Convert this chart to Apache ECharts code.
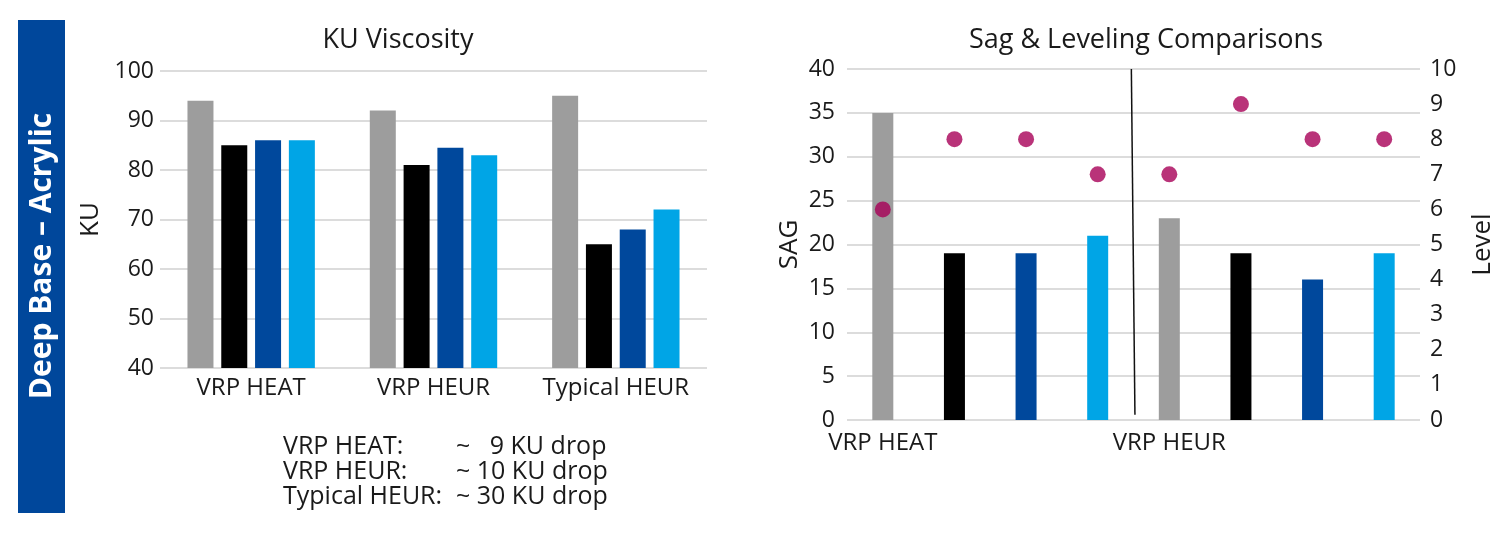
<!DOCTYPE html>
<html>
<head>
<meta charset="utf-8">
<script src="https://cdn.jsdelivr.net/npm/echarts@6/dist/echarts.min.js"></script>
<style>
html,body{margin:0;padding:0;background:#fff;}
#main{width:1500px;height:533px;}
</style>
</head>
<body>
<div id="main"></div>
<script>
// ---- Data ----
const kuCategories = ['VRP HEAT', 'VRP HEUR', 'Typical HEUR'];
const kuGray = [94, 92, 95];
const kuBlack = [85, 81, 65];
const kuDarkBlue = [86, 84.5, 68];
const kuLightBlue = [86, 83, 72];
const kuTicks = { min: 40, max: 100, interval: 10 };

const sagCategories = ['VRP HEAT', '', '', '', 'VRP HEUR', '', '', ''];
const sagValues = [35, 19, 19, 21, 23, 19, 16, 19];
const levelValues = [6, 8, 8, 7, 7, 9, 8, 8];
const sagTicks = { min: 0, max: 40, interval: 5 };
const levelTicks = { min: 0, max: 10, interval: 1 };
const dividerLine = [[3.47, 40], [3.52, 0.6]];

const dropLabels = ['VRP HEAT:', 'VRP HEUR:', 'Typical HEUR:'];
const dropValues = ['~   9 KU drop', '~ 10 KU drop', '~ 30 KU drop'];
const sideTitle = 'Deep Base \u2013 Acrylic';

// ---- Styles ----
const FONT = '"Open Sans", sans-serif';
const TXT = '#1a1a1a';
const GRAY = '#9d9d9d', BLACK = '#000000', DBLUE = '#00489c', LBLUE = '#00a5e6', DOT = '#a80058';
const barPalette = [GRAY, BLACK, DBLUE, LBLUE];
const gridLine = { lineStyle: { color: '#dcdcdc', width: 2 } };
const TICK_FS = 23, CAT_FS = 24, NAME_FS = 26, TITLE_FS = 27, NOTE_FS = 25;

const chart = echarts.init(document.getElementById('main'));

function kuBar(name, data, color) {
  return {
    type: 'bar', name, data, xAxisIndex: 0, yAxisIndex: 0,
    barWidth: 26, barGap: '30%',
    itemStyle: { color }
  };
}

const option = {
  animation: false,
  textStyle: { fontFamily: FONT },
  title: [
    { text: 'KU Viscosity', left: 393, textAlign: 'center', top: 22,
      textStyle: { fontFamily: FONT, fontSize: TITLE_FS, fontWeight: 'normal', color: TXT } },
    { text: 'Sag & Leveling Comparisons', left: 1141, textAlign: 'center', top: 22,
      textStyle: { fontFamily: FONT, fontSize: TITLE_FS, fontWeight: 'normal', color: TXT } }
  ],
  grid: [
    { left: 160, top: 71, width: 547, height: 297 },
    { left: 847, top: 69, width: 573, height: 351 }
  ],
  xAxis: [
    { type: 'category', gridIndex: 0, data: kuCategories,
      axisLine: { show: false }, axisTick: { show: false },
      axisLabel: { color: TXT, fontSize: CAT_FS, margin: 8, fontFamily: FONT, interval: 0, hideOverlap: false } },
    { type: 'category', gridIndex: 1, data: sagCategories,
      axisLine: { show: false }, axisTick: { show: false },
      axisLabel: { color: TXT, fontSize: CAT_FS, margin: 11, fontFamily: FONT, interval: 0, hideOverlap: false } },
    { type: 'value', gridIndex: 1, min: -0.5, max: 7.5, show: false }
  ],
  yAxis: [
    { type: 'value', gridIndex: 0, min: kuTicks.min, max: kuTicks.max, interval: kuTicks.interval,
      name: 'KU', nameLocation: 'middle', nameGap: 56, nameRotate: 90,
      nameTextStyle: { color: TXT, fontSize: NAME_FS, fontFamily: FONT },
      axisLine: { show: false }, axisTick: { show: false },
      axisLabel: { color: TXT, fontSize: TICK_FS, margin: 6, fontFamily: FONT },
      splitLine: gridLine },
    { type: 'value', gridIndex: 1, min: sagTicks.min, max: sagTicks.max, interval: sagTicks.interval,
      name: 'SAG', nameLocation: 'middle', nameGap: 44, nameRotate: 90,
      nameTextStyle: { color: TXT, fontSize: NAME_FS, fontFamily: FONT },
      axisLine: { show: false }, axisTick: { show: false },
      axisLabel: { color: TXT, fontSize: TICK_FS, margin: 12, fontFamily: FONT },
      splitLine: gridLine },
    { type: 'value', gridIndex: 1, position: 'right', min: levelTicks.min, max: levelTicks.max, interval: levelTicks.interval,
      name: 'Level', nameLocation: 'middle', nameGap: 50, nameRotate: 90,
      nameTextStyle: { color: TXT, fontSize: NAME_FS, fontFamily: FONT },
      axisLine: { show: false }, axisTick: { show: false },
      axisLabel: { color: TXT, fontSize: TICK_FS, margin: 10, fontFamily: FONT },
      splitLine: { show: false } }
  ],
  series: [
    kuBar('Gray', kuGray, GRAY),
    kuBar('Black', kuBlack, BLACK),
    kuBar('Dark Blue', kuDarkBlue, DBLUE),
    kuBar('Light Blue', kuLightBlue, LBLUE),
    { type: 'bar', name: 'SAG', xAxisIndex: 1, yAxisIndex: 1, barWidth: 21,
      data: sagValues.map((v, i) => ({ value: v, itemStyle: { color: barPalette[i % 4] } })) },
    { type: 'scatter', name: 'Level', xAxisIndex: 1, yAxisIndex: 2, symbol: 'circle', symbolSize: 16,
      itemStyle: { color: DOT }, data: levelValues, z: 5 },
    { type: 'line', name: 'divider', xAxisIndex: 2, yAxisIndex: 1, data: dividerLine,
      symbol: 'none', lineStyle: { color: '#111', width: 1.5 }, z: 6, silent: true }
  ],
  graphic: [
    { type: 'rect', left: 18, top: 20, shape: { width: 47, height: 493 }, style: { fill: '#00479b' } },
    { type: 'text', x: 42, y: 256, rotation: Math.PI / 2,
      style: { text: sideTitle, fill: '#fff', font: 'bold 30px ' + FONT, align: 'center', verticalAlign: 'middle' } }
  ].concat(dropLabels.map((t, i) => ({
    type: 'text', x: 283, y: 447 + i * 25,
    style: { text: t, fill: TXT, font: NOTE_FS + 'px ' + FONT, align: 'left', verticalAlign: 'middle' }
  }))).concat(dropValues.map((t, i) => ({
    type: 'text', x: 456, y: 447 + i * 25,
    style: { text: t, fill: TXT, font: NOTE_FS + 'px ' + FONT, align: 'left', verticalAlign: 'middle', whiteSpace: 'pre' }
  })))
};
chart.setOption(option);
</script>
</body>
</html>
